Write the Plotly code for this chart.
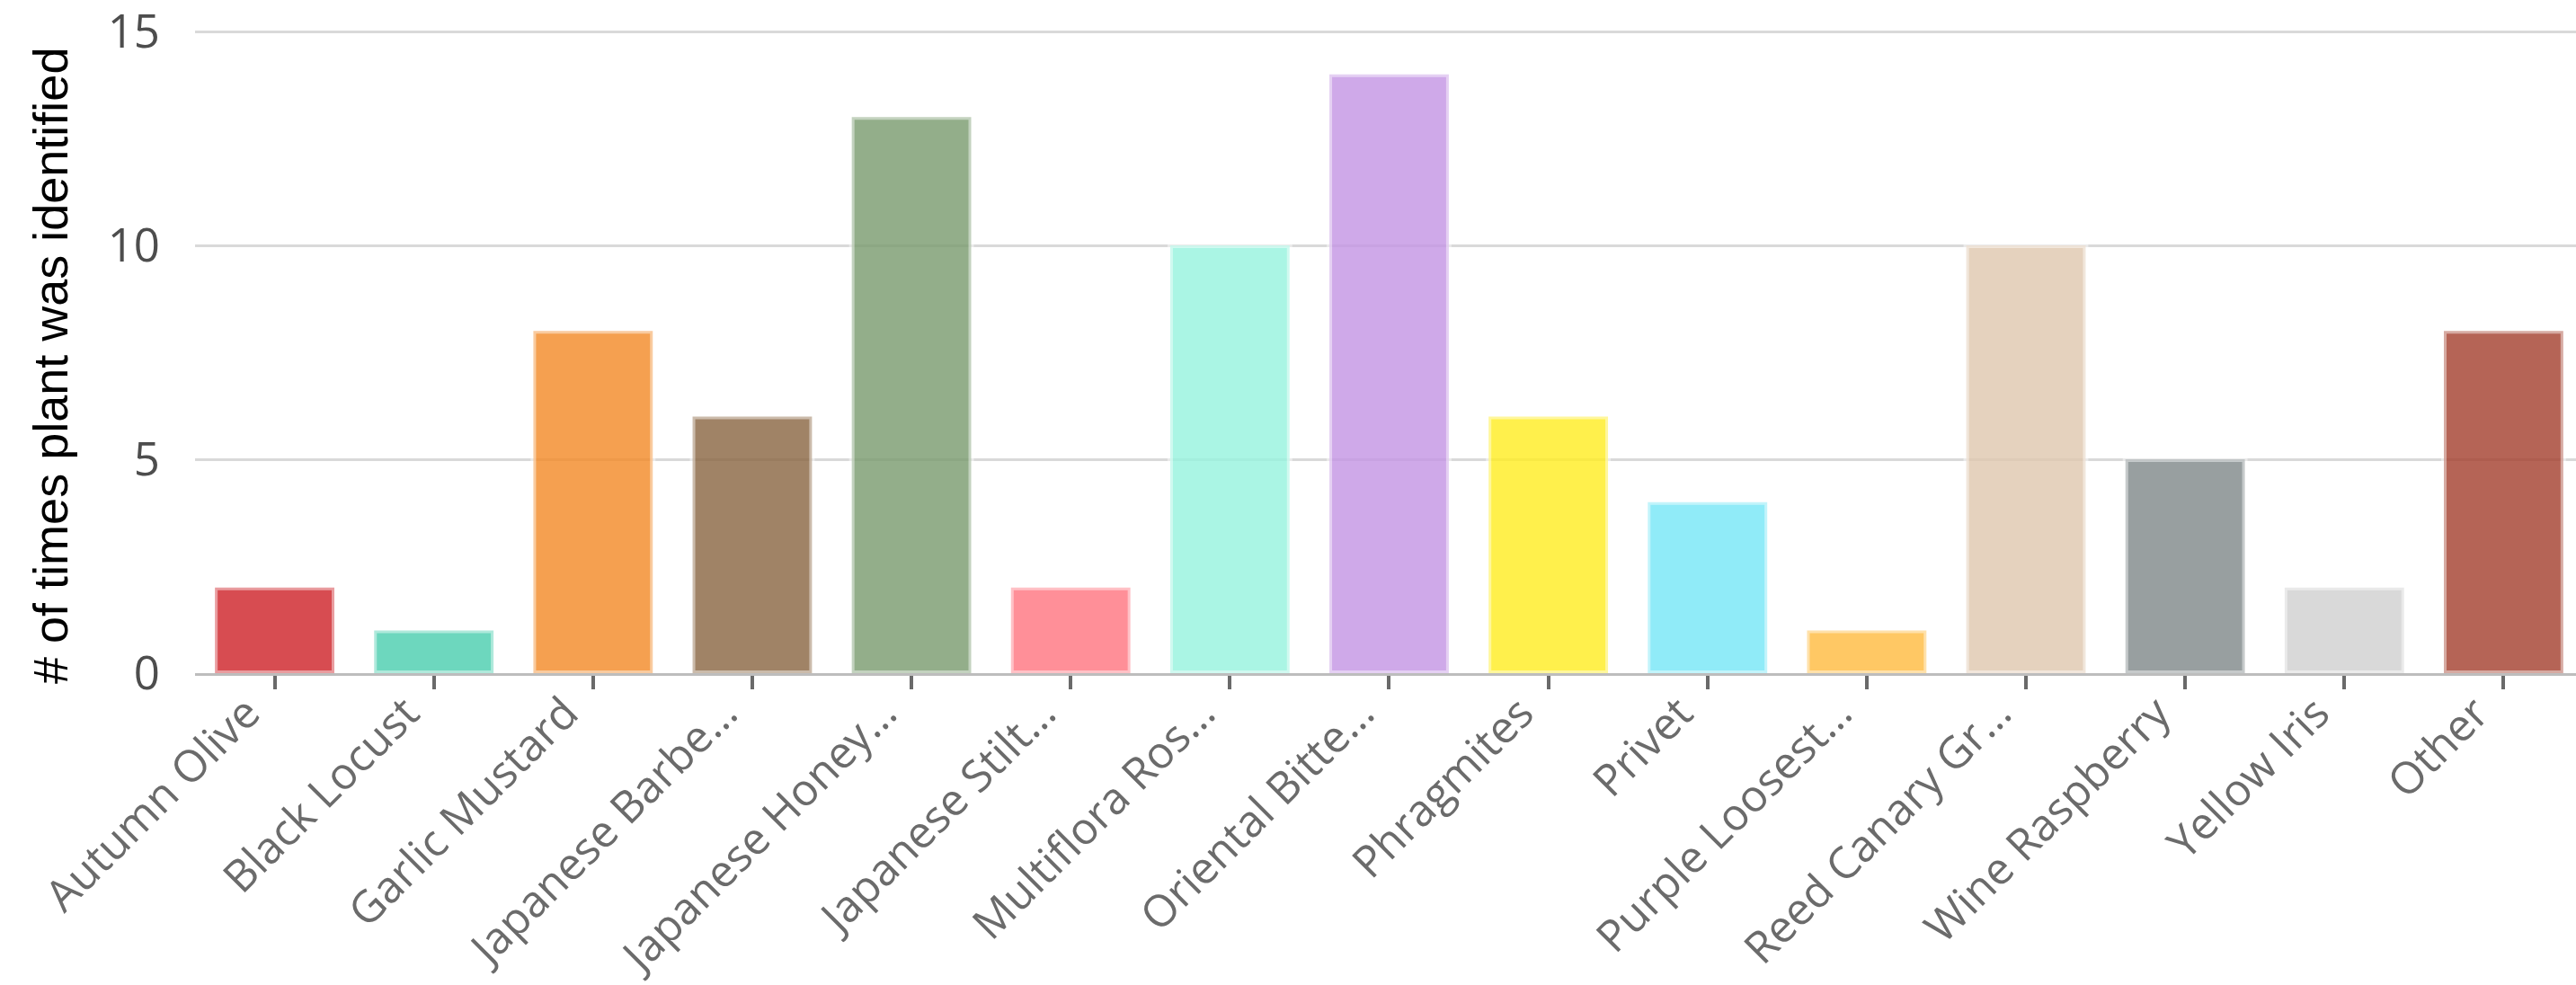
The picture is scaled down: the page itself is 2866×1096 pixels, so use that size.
import plotly.graph_objects as go

categories = [
    "Autumn Olive", "Black Locust", "Garlic Mustard", "Japanese Barbe…",
    "Japanese Honey…", "Japanese Stilt…", "Multiflora Ros…", "Oriental Bitte…",
    "Phragmites", "Privet", "Purple Loosest…", "Reed Canary Gr…",
    "Wine Raspberry", "Yellow Iris", "Other",
]
counts = [2, 1, 8, 6, 13, 2, 10, 14, 6, 4, 1, 10, 5, 2, 8]

# colours as they appear over white
visible_colors = [
    (215, 76, 81), (109, 215, 190), (245, 160, 80), (160, 131, 102),
    (147, 174, 138), (255, 143, 152), (170, 245, 228), (207, 169, 233),
    (255, 240, 76), (144, 235, 248), (255, 200, 100), (229, 210, 190),
    (152, 159, 160), (217, 217, 217), (181, 100, 86),
]
ALPHA = 0.8


def to_rgba(v, a=ALPHA):
    c = [max(0, min(255, round((x - (1 - a) * 255) / a))) for x in v]
    return f"rgba({c[0]},{c[1]},{c[2]},{a})"


fill_colors = [to_rgba(v) for v in visible_colors]

fig = go.Figure(
    go.Bar(
        x=categories,
        y=counts,
        marker=dict(
            color=fill_colors,
            line=dict(color="rgba(255,255,255,0.45)", width=6),
        ),
    )
)

W, H = 2866, 1096
L = 217
Y0 = 749.5          # pixel row of value 0
Y15 = 34.7          # pixel row of value 15
YTOP = 15.15
unit = (Y0 - Y15) / 15
T = Y15 - (YTOP - 15) * unit
B = H - Y0

fig.update_layout(
    width=W,
    height=H,
    margin=dict(l=L, r=0, t=T, b=B, pad=0, autoexpand=False),
    paper_bgcolor="white",
    plot_bgcolor="white",
    bargap=0.25,
    showlegend=False,
    xaxis=dict(
        range=[-0.5, 14.455],
        automargin=False,
        showgrid=False,
        showline=True,
        linecolor="#bdbdbd",
        linewidth=3,
        ticks="outside",
        ticklen=15,
        tickwidth=4,
        tickcolor="#6a6a6a",
        tickangle=-45,
        ticklabelshift=-31,
        ticklabelstandoff=-22,
        ticklabeloverflow="allow",
        tickfont=dict(family="Open Sans", size=49, color="#6b6b6b"),
        zeroline=False,
    ),
    yaxis=dict(
        range=[0, YTOP],
        automargin=False,
        tickvals=[0, 5, 10, 15],
        ticktext=["0", "5", "10", "15"],
        showgrid=True,
        gridcolor="#d9d9d9",
        gridwidth=3,
        zeroline=False,
        showline=False,
        ticks="",
        ticklabelstandoff=38,
        ticklabeloverflow="allow",
        tickfont=dict(family="Open Sans", size=51, color="#4d4d4d"),
    ),
    annotations=[
        dict(
            text="# of times plant was identified",
            xref="paper",
            yref="paper",
            x=(56 - L) / (W - L),
            y=(Y0 - 407) / (Y0 - T),
            xanchor="center",
            yanchor="middle",
            textangle=-90,
            showarrow=False,
            font=dict(family="Liberation Sans", size=54, color="#000000"),
        )
    ],
)

fig.write_html("out.html")
